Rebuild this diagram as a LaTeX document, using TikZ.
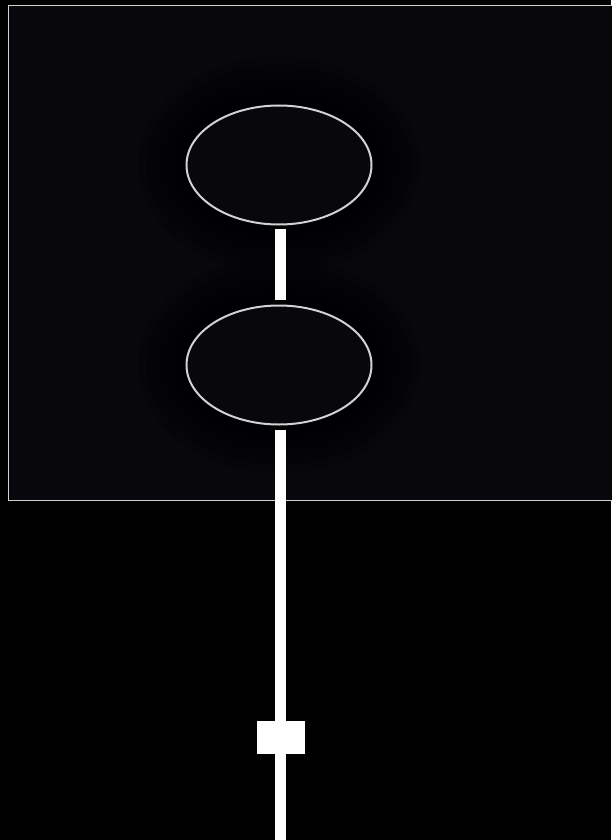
\documentclass[tikz,border=0pt]{standalone}
\usetikzlibrary{shapes.geometric}
\definecolor{panel}{RGB}{7,7,12}
\definecolor{rim}{RGB}{210,210,210}
\tikzset{
  oval/.style={ellipse, draw=rim, line width=2pt, fill=panel, minimum width=185pt, minimum height=119pt, inner sep=0pt},
  stem/.style={draw=white, line width=11pt},
  knob/.style={rectangle, fill=white, minimum width=48pt, minimum height=33pt, inner sep=0pt}
}
\begin{document}
\begin{tikzpicture}[x=1pt, y=-1pt]
% Fondo
\fill [black] (0,0) rectangle (611,840);
\useasboundingbox (0,0) rectangle (611,840);

% Panel
\filldraw [fill=panel, draw=rim, line width=1pt] (8,6) rectangle (620,500);

% Sombras
\foreach \cy in {165,365}
  \foreach \r in {48,40,32,24,16,8}
    \fill [black, opacity=0.15] (279,\cy) ellipse ({93+\r} and {60+\r});

% Elipses
\node [oval] (top) at (279,165) {};
\node [oval] (low) at (279,365) {};

% Vastago
\coordinate (foot) at (280.5,840);
\node [knob] (slider) at (281,737.5) {};
\draw [stem, shorten <=3pt, shorten >=5pt] ([xshift=1.5pt]top.south) -- ([xshift=1.5pt]low.north);
\draw [stem, shorten <=4pt] ([xshift=1.5pt]low.south) -- (slider.north -| foot);
\draw [stem] (slider.south -| foot) -- (foot);
\end{tikzpicture}
\end{document}
